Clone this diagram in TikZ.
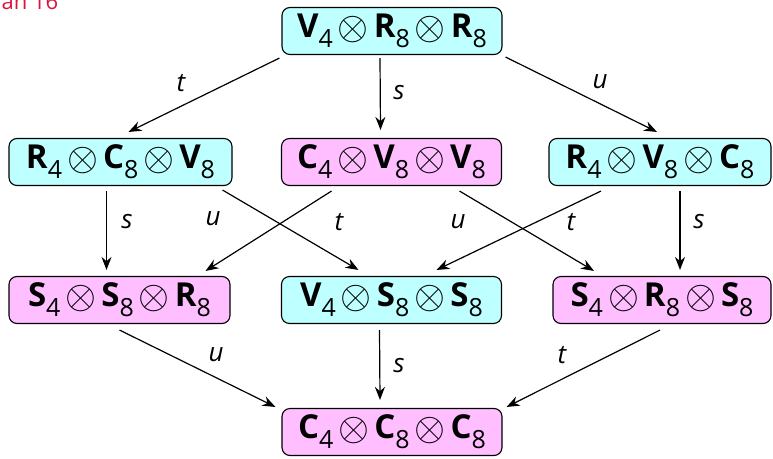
\documentclass[tikz,border=0pt]{standalone}
\usepackage{fontspec}
\setmainfont{Open Sans}
\usepackage{graphicx}
\usetikzlibrary{arrows.meta,calc}
\newcommand{\Tk}[2]{\textbf{#1}\raisebox{-0.3em}{\fontsize{25}{25}\selectfont #2}}
\newcommand{\Ot}{\hspace{5pt}\raisebox{-0.05em}{\scalebox{1.6}{$\otimes$}}\hspace{5pt}}
\definecolor{cybox}{RGB}{190,255,255}
\definecolor{pkbox}{RGB}{255,190,255}
\definecolor{redtxt}{RGB}{220,20,60}
\tikzset{
  tbox/.style={draw=black, line width=1.1pt, rounded corners=8pt, minimum height=47pt, inner xsep=4pt, inner ysep=2pt, font=\fontsize{33}{33}\selectfont, anchor=center},
  cy/.style={tbox, fill=cybox, minimum width=220pt},
  pk/.style={tbox, fill=pkbox, minimum width=220pt},
  arr/.style={-{Stealth[length=13pt,width=10pt]}, line width=1.2pt},
  lbl/.style={font=\fontsize{26}{26}\selectfont\itshape}
}
\begin{document}
\begin{tikzpicture}[x=1pt,y=-1pt]
\useasboundingbox (0,0) rectangle (773,458);
\node[text=redtxt, font=\fontsize{22}{22}\selectfont, anchor=base west] (hdr) at (-2,9) {an 16};
\node[cy] (top) at (392,31) {\Tk{V}{4}\Ot\Tk{R}{8}\Ot\Tk{R}{8}};
\node[cy, minimum width=223pt] (l2) at (120.5,162) {\Tk{R}{4}\Ot\Tk{C}{8}\Ot\Tk{V}{8}};
\node[pk] (m2) at (391.5,162) {\Tk{C}{4}\Ot\Tk{V}{8}\Ot\Tk{V}{8}};
\node[cy, minimum width=222pt] (r2) at (660,162) {\Tk{R}{4}\Ot\Tk{V}{8}\Ot\Tk{C}{8}};
\node[pk, minimum width=221pt] (l3) at (119.5,300) {\Tk{S}{4}\Ot\Tk{S}{8}\Ot\Tk{R}{8}};
\node[cy] (m3) at (391.5,300) {\Tk{V}{4}\Ot\Tk{S}{8}\Ot\Tk{S}{8}};
\node[pk, minimum width=218pt] (r3) at (662,300) {\Tk{S}{4}\Ot\Tk{R}{8}\Ot\Tk{S}{8}};
\node[pk] (bot) at (392,432) {\Tk{C}{4}\Ot\Tk{C}{8}\Ot\Tk{C}{8}};
% row 1 -> row 2
\draw[arr] ($(top.south west)+(-2,3)$) -- ($(l2.north)+(8,-6)$);
\draw[arr] ($(top.south)+(-12,3)$) -- ($(m2.north)+(-11,-8)$);
\draw[arr] ($(top.south east)+(3,2)$) -- ($(r2.north)+(-3,-6)$);
\node[lbl] (lt1) at (181,83) {t};
\node[lbl] (ls1) at (399,93) {s};
\node[lbl] (lu1) at (600,82) {u};
% row 2 -> row 3
\draw[arr] ($(l2.south)+(-14,5)$) -- ($(l3.north)+(-13,-6)$);
\draw[arr] ($(l2.south east)+(-10,4)$) -- ($(m3.north)+(-33,-6)$);
\draw[arr] ($(m2.south)+(-60,5)$) -- ($(l3.north)+(86,-5)$);
\draw[arr] ($(m2.south)+(68,5)$) -- ($(r3.north)+(-68,-5)$);
\draw[arr] ($(r2.south)+(-59,5)$) -- ($(m3.north)+(45,-6)$);
\draw[arr] ($(r2.south)+(20,5)$) -- ($(r3.north)+(18,-6)$);
\node[lbl] (ls2) at (127,222) {s};
\node[lbl] (lu2) at (213,219) {u};
\node[lbl] (lt2) at (339,222) {t};
\node[lbl] (lu3) at (458,222) {u};
\node[lbl] (lt3) at (571,222) {t};
\node[lbl] (ls3) at (699,222) {s};
% row 3 -> row 4
\draw[arr] ($(l3.south)+(0,6)$) -- ($(bot.north west)+(-6,-1)$);
\draw[arr] ($(m3.south)+(-12,6)$) -- ($(bot.north)+(-12,-8)$);
\draw[arr] ($(r3.south)+(-2,6)$) -- ($(bot.north east)+(4,-1)$);
\node[lbl] (lu4) at (216,355) {u};
\node[lbl] (ls4) at (399,366) {s};
\node[lbl] (lt4) at (562,355) {t};
\end{tikzpicture}
\end{document}
